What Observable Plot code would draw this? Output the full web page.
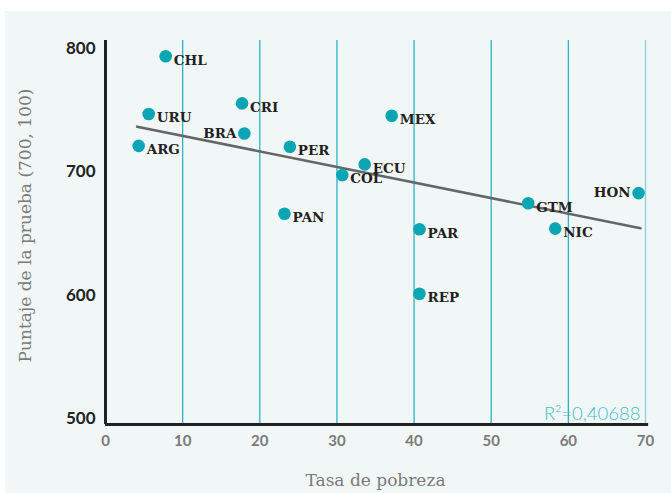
<!DOCTYPE html>
<html>
<head>
<meta charset="utf-8">
<script src="https://cdn.jsdelivr.net/npm/d3@7"></script>
<script src="https://cdn.jsdelivr.net/npm/@observablehq/plot@0.6"></script>
<style>
  html, body { margin: 0; padding: 0; background: #ffffff; }
  #wrap { position: absolute; left: 5px; top: 11px; width: 666px; height: 482px; background: #f1f6f7; }
  svg { display: block; }
</style>
</head>
<body>
<div id="wrap"></div>
<script>
// Countries, poverty rate (x) and test score (y)
const countries = ["CHL","URU","ARG","CRI","BRA","PER","PAN","MEX","ECU","COL","PAR","REP","GTM","NIC","HON"];
const poverty   = [7.8, 5.6, 4.3, 17.7, 18.0, 23.9, 23.2, 37.1, 33.6, 30.7, 40.7, 40.7, 54.8, 58.3, 69.1];
const score     = [793.7, 746.9, 721.0, 755.5, 731.0, 720.3, 665.9, 745.5, 706.0, 697.3, 653.4, 601.0, 674.5, 653.9, 682.7];
const leftLabels = ["BRA", "HON"];

// Trend line as drawn in the reference
const trendX = [4.1, 69.35];
const trendY = [736.6, 654.2];

const xTicks = [0, 10, 20, 30, 40, 50, 60, 70];
const yTicks = [500, 600, 700, 800];
const gridX = [10, 20, 30, 40, 50, 60, 70];
const r2Label = "R²=0,40688";
const xTitle = "Tasa de pobreza";
const yTitle = "Puntaje de la prueba (700, 100)";

const data = countries.map((c, i) => ({country: c, x: poverty[i], y: score[i]}));
const trend = trendX.map((x, i) => ({x, y: trendY[i]}));
const rightData = data.filter(d => !leftLabels.includes(d.country));
const leftData = data.filter(d => leftLabels.includes(d.country));

const chart = Plot.plot({
  width: 666,
  height: 482,
  marginLeft: 100,
  marginRight: 26,
  marginTop: 29,
  marginBottom: 69,
  style: {background: "transparent", overflow: "visible"},
  x: {domain: [0, 70]},
  y: {domain: [495, 806.5]},
  marks: [
    Plot.ruleX(gridX, {stroke: d => d === 70 ? "#86d3db" : "#2fb3c2", strokeWidth: 1.3}),
    Plot.ruleX([0], {stroke: "#222", strokeWidth: 3}),
    Plot.ruleY([495], {stroke: "#222", strokeWidth: 3, x1: 0, x2: 70.4}),
    Plot.axisY({ticks: yTicks, tickSize: 0, tickPadding: 10, label: null,
      fontFamily: "Lato", fontWeight: "bold", fontSize: 17, fill: "#222"}),
    Plot.axisX({ticks: xTicks, tickSize: 0, tickPadding: 11, label: null,
      fontFamily: "Lato", fontWeight: "bold", fontSize: 15, fill: "#7a7a7a"}),
    Plot.line(trend, {x: "x", y: "y", stroke: "#666", strokeWidth: 2.6}),
    Plot.dot(data, {x: "x", y: "y", r: 6.3, fill: "#0ba5b4"}),
    Plot.text(rightData, {x: "x", y: "y", text: "country", textAnchor: "start", dx: 8, dy: 4,
      fontFamily: "DejaVu Serif", fontWeight: "bold", fontSize: 13.5, fill: "#231f20"}),
    Plot.text(leftData, {x: "x", y: "y", text: "country", textAnchor: "end", dx: -8, dy: 0,
      fontFamily: "DejaVu Serif", fontWeight: "bold", fontSize: 13.5, fill: "#231f20"}),
    Plot.text([r2Label], {frameAnchor: "bottom-right", textAnchor: "end", lineAnchor: "bottom", dx: -5, dy: -5,
      fontFamily: "Lato", fontWeight: 300, fontSize: 18.5, fill: "#45bdca"}),
    Plot.text([xTitle], {frameAnchor: "bottom", textAnchor: "middle", lineAnchor: "middle", dy: 56,
      fontFamily: "DejaVu Serif", fontSize: 17, fill: "#7a7a7a"}),
    Plot.text([yTitle], {frameAnchor: "left", rotate: -90, textAnchor: "middle", lineAnchor: "middle", dx: -80, dy: -7,
      fontFamily: "DejaVu Serif", fontSize: 17, fill: "#7a7a7a"})
  ]
});
document.getElementById("wrap").appendChild(chart);
</script>
</body>
</html>
